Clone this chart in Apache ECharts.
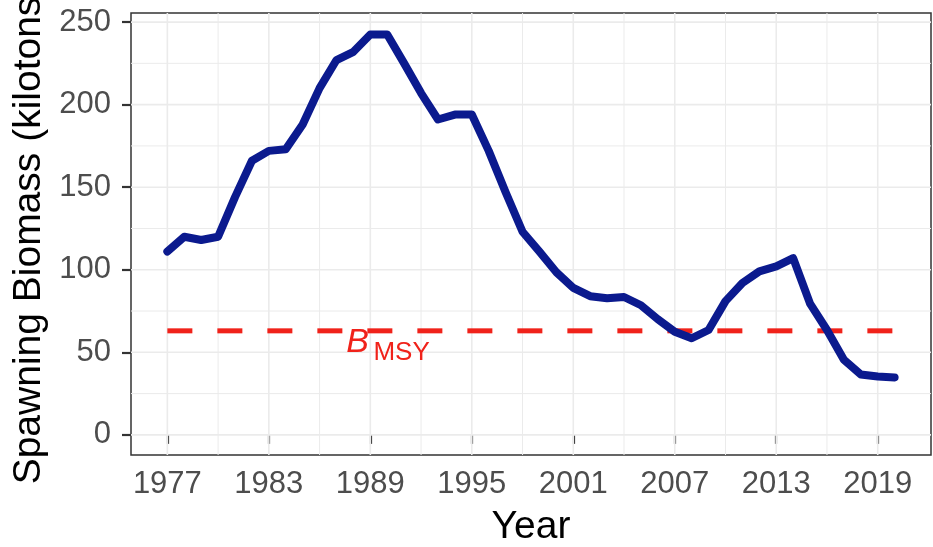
<!DOCTYPE html>
<html>
<head>
<meta charset="utf-8">
<script src="https://cdn.jsdelivr.net/npm/echarts@6/dist/echarts.min.js"></script>
<style>
html,body{margin:0;padding:0;background:#fff;}
#c{width:933px;height:547px;}
</style>
</head>
<body>
<div id="c"></div>
<script>
const years = [1977,1978,1979,1980,1981,1982,1983,1984,1985,1986,1987,1988,1989,1990,1991,1992,1993,1994,1995,1996,1997,1998,1999,2000,2001,2002,2003,2004,2005,2006,2007,2008,2009,2010,2011,2012,2013,2014,2015,2016,2017,2018,2019,2020];
const biomass = [111,120,118,120,144,166,172,173,188,210,227,232,242.5,242.5,225,207,191,194,194,172,147,123,111,98.5,89,84,82.7,83.5,78.5,70,62.5,58.5,63.5,81,92,99,102,107,79.5,63.5,45.5,36.5,35.3,34.8];
const bmsy = 63;
const xTicks = [1977,1983,1989,1995,2001,2007,2013,2019];
const xMinor = [1980,1986,1992,1998,2004,2010,2016];
const yTicks = [0,50,100,150,200,250];
const yMinor = [25,75,125,175,225];
const xTitle = 'Year';
const yTitle = 'Spawning Biomass (kilotons)';
const bmsyLabel = ['B', 'MSY'];

const X_MIN = 1974.85, X_MAX = 2022.15, Y_MIN = -12.2, Y_MAX = 255.5;
const gridColor = '#EBEBEB';
const redColor = '#F0221A';
const chart = echarts.init(document.getElementById('c'), null, {renderer:'canvas'});
const font = 'Liberation Sans, Arial, Helvetica, sans-serif';

const gridSeries = [];
function addGrid(data, w){
  gridSeries.push({type:'line', data:data, silent:true, z:1, showSymbol:false, symbol:'none',
    lineStyle:{color:gridColor, width:w}, animation:false});
}
xTicks.forEach(v => addGrid([[v, Y_MIN],[v, Y_MAX]], 1.6));
xMinor.forEach(v => addGrid([[v, Y_MIN],[v, Y_MAX]], 1));
yTicks.forEach(v => addGrid([[X_MIN, v],[X_MAX, v]], 1.6));
yMinor.forEach(v => addGrid([[X_MIN, v],[X_MAX, v]], 1));

const labelBase = {show:true, position:'inside', color:redColor, fontFamily:font, textBorderWidth:0, textShadowBlur:0};

chart.setOption({
  animation: false,
  backgroundColor: '#fff',
  grid: {left:131, top:13, right:2, bottom:92, show:true, borderColor:'#333333', borderWidth:1.5,
    backgroundColor:'transparent', containLabel:false, outerBoundsMode:'none'},
  xAxis: {
    type:'value', min:X_MIN, max:X_MAX,
    name: xTitle, nameLocation:'middle', nameGap:53,
    nameTextStyle:{fontSize:39, color:'#000', fontFamily:font},
    axisLine:{show:false},
    axisTick:{show:true, length:9, lineStyle:{color:'#333333', width:2.2}, customValues:xTicks},
    axisLabel:{fontSize:31, color:'#4D4D4D', fontFamily:font, margin:14, customValues:xTicks, formatter: v => String(v)},
    splitLine:{show:false}
  },
  yAxis: {
    type:'value', min:Y_MIN, max:Y_MAX,
    name: yTitle, nameLocation:'middle', nameGap:81, nameRotate:90,
    nameTextStyle:{fontSize:39, color:'#000', fontFamily:font},
    axisLine:{show:false},
    axisTick:{show:true, length:9, lineStyle:{color:'#333333', width:2.2}, customValues:yTicks},
    axisLabel:{fontSize:31, color:'#4D4D4D', fontFamily:font, margin:20, customValues:yTicks},
    splitLine:{show:false}
  },
  series: gridSeries.concat([
    {
      name:'bmsy', type:'line', z:3,
      data:[[years[0], bmsy],[years[years.length-1], bmsy]],
      showSymbol:false, symbol:'none',
      lineStyle:{color:redColor, width:5, type:[25,25]}
    },
    {
      type:'scatter', z:3, silent:true,
      symbol:'circle', symbolSize:0, itemStyle:{color:redColor, opacity:1},
      data:[
        {value:[1988.25, 56], label:Object.assign({}, labelBase, {formatter:bmsyLabel[0], fontSize:34, fontStyle:'italic'})},
        {value:[1990.85, 49.5], label:Object.assign({}, labelBase, {formatter:bmsyLabel[1], fontSize:26})}
      ]
    },
    {
      name:'biomass', type:'line', z:4,
      data: years.map((y,i)=>[y, biomass[i]]),
      showSymbol:false, symbol:'none',
      lineStyle:{color:'#0B1A8E', width:8, join:'round', cap:'round'}
    }
  ])
});
</script>
</body>
</html>
